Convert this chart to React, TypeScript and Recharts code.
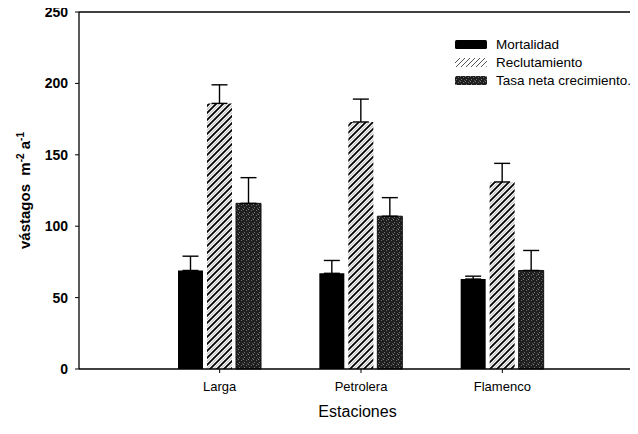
import React from 'react';
import { BarChart, Bar, XAxis, YAxis, ErrorBar, ReferenceLine, Label } from 'recharts';

const categories = ['Larga', 'Petrolera', 'Flamenco'];
const mortalidad = [69, 67, 63];
const mortalidadErr = [10, 9, 2];
const reclutamiento = [186, 173, 131];
const reclutamientoErr = [13, 16, 13];
const tasaNeta = [116, 107, 69];
const tasaNetaErr = [18, 13, 14];
const yTicks = [0, 50, 100, 150, 200, 250];

const data = categories.map((name, i) => ({
  name,
  mortalidad: mortalidad[i],
  mortalidadErr: [0, mortalidadErr[i]],
  reclutamiento: reclutamiento[i],
  reclutamientoErr: [0, reclutamientoErr[i]],
  tasaNeta: tasaNeta[i],
  tasaNetaErr: [0, tasaNetaErr[i]],
}));

const legendItems = [
  { label: 'Mortalidad', fill: '#000' },
  { label: 'Reclutamiento', fill: 'url(#hatchLegend)' },
  { label: 'Tasa neta crecimiento.', fill: 'url(#stipple)' },
];

const FONT = 'Arial, "Liberation Sans", Helvetica, sans-serif';

const Patterns = () => (
  <svg width={0} height={0} style={{ position: 'absolute' }}>
    <defs>
      <pattern id="hatch" patternUnits="userSpaceOnUse" width={7} height={7}>
        <rect width={7} height={7} fill="#fff" />
        <path d="M-1,4.5 l5.5,-5.5 M2.5,8 l5.5,-5.5" stroke="#c4c4c4" strokeWidth={1.1} />
        <path d="M-1,1 l2,-2 M0,7 l7,-7 M6,8 l2,-2" stroke="#000" strokeWidth={1.8} />
      </pattern>
      <pattern id="hatchLegend" patternUnits="userSpaceOnUse" width={5} height={5}>
        <rect width={5} height={5} fill="#fff" />
        <path d="M-1,1 l2,-2 M0,5 l5,-5 M4,6 l2,-2" stroke="#555" strokeWidth={1} />
      </pattern>
      <pattern id="stipple" patternUnits="userSpaceOnUse" width={5} height={5}>
        <rect width={5} height={5} fill="#1f1f1f" />
        <rect x={0} y={0} width={1} height={1} fill="#808080" />
        <rect x={3} y={1} width={1} height={1} fill="#6a6a6a" />
        <rect x={1} y={3} width={1} height={1} fill="#747474" />
        <rect x={4} y={4} width={1} height={1} fill="#555" />
      </pattern>
    </defs>
  </svg>
);

const LegendBox = () => (
  <div
    style={{
      position: 'absolute',
      left: 447,
      top: 31,
      width: 190,
      fontFamily: FONT,
      fontSize: 13.5,
      color: '#000',
      whiteSpace: 'nowrap',
    }}
  >
    {legendItems.map((it) => (
      <div key={it.label} style={{ display: 'flex', alignItems: 'center', height: 18 }}>
        <svg width={32} height={9} style={{ marginRight: 9, flex: 'none' }}>
          <rect x={0} y={0} width={32} height={9} rx={1.5} fill={it.fill} />
        </svg>
        <span>{it.label}</span>
      </div>
    ))}
  </div>
);

const YLabel = (props: any) => {
  const vb = props.viewBox || {};
  const cy = (vb.y ?? 8) + (vb.height ?? 357) / 2;
  const x = 22;
  return (
    <text
      x={x}
      y={cy}
      transform={`rotate(-90, ${x}, ${cy})`}
      textAnchor="middle"
      fontFamily={FONT}
      fontSize={15}
      fontWeight="bold"
      fill="#000"
    >
      vástagos{'\u00a0\u00a0'}m<tspan dy={-6} fontSize={10}>-2</tspan>
      <tspan dy={6}>{'\u00a0'}a</tspan>
      <tspan dy={-6} fontSize={10}>-1</tspan>
    </text>
  );
};

export default function App() {
  return (
    <div style={{ position: 'relative', top: -4 }}>
      <Patterns />
      <BarChart
        width={630}
        height={430}
        data={data}
        margin={{ top: 8, right: 2, bottom: 15, left: 0 }}
        barSize={25}
        barGap={4}
      >
        <XAxis
          dataKey="name"
          padding={{ left: 70, right: 63 }}
          axisLine={{ stroke: '#000', strokeWidth: 1.3 }}
          tickLine={{ stroke: '#000' }}
          tickSize={4}
          tickMargin={9}
          height={50}
          tick={{ fontFamily: FONT, fontSize: 13, fill: '#000' }}
        >
          <Label
            value="Estaciones"
            position="insideBottom"
            offset={2}
            style={{ fontFamily: FONT, fontSize: 16, fill: '#000' }}
          />
        </XAxis>
        <YAxis
          width={71}
          domain={[0, 250]}
          ticks={yTicks}
          axisLine={{ stroke: '#000', strokeWidth: 1.3 }}
          tickLine={{ stroke: '#000' }}
          tickSize={4}
          tickMargin={7}
          tick={{ fontFamily: FONT, fontSize: 14, fill: '#000', fontWeight: 'bold' }}
          label={<YLabel />}
        />
        <ReferenceLine y={250} stroke="#000" strokeWidth={1.3} />
        <Bar dataKey="mortalidad" name="Mortalidad" fill="#000" isAnimationActive={false}>
          <ErrorBar dataKey="mortalidadErr" width={8} stroke="#000" strokeWidth={1.4} direction="y" />
        </Bar>
        <Bar dataKey="reclutamiento" name="Reclutamiento" fill="url(#hatch)" isAnimationActive={false}>
          <ErrorBar dataKey="reclutamientoErr" width={8} stroke="#000" strokeWidth={1.4} direction="y" />
        </Bar>
        <Bar
          dataKey="tasaNeta"
          name="Tasa neta crecimiento."
          fill="url(#stipple)"
          stroke="#111"
          strokeWidth={1}
          isAnimationActive={false}
        >
          <ErrorBar dataKey="tasaNetaErr" width={8} stroke="#000" strokeWidth={1.4} direction="y" />
        </Bar>
      </BarChart>
      <LegendBox />
    </div>
  );
}
